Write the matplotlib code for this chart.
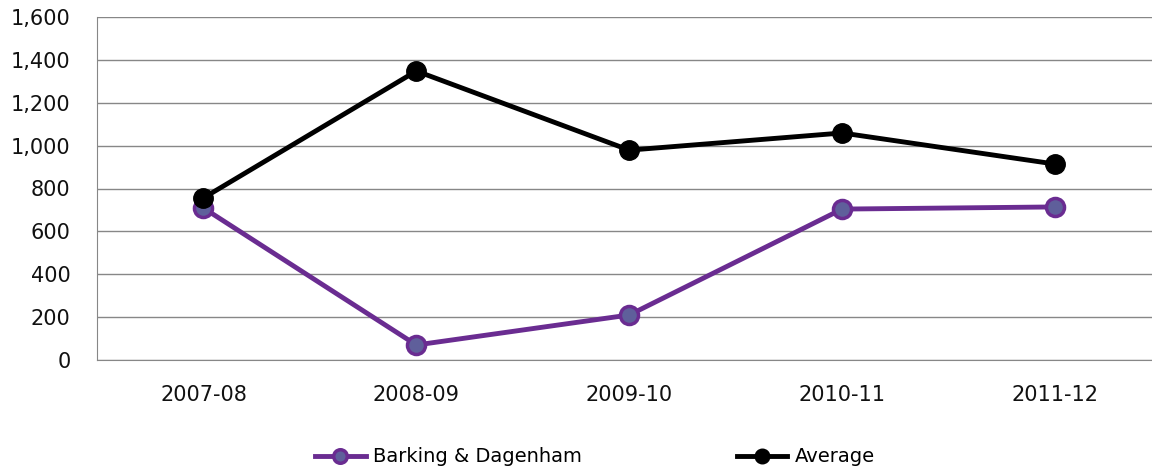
import numpy as np
import matplotlib.pyplot as plt

years = ['2007-08', '2008-09', '2009-10', '2010-11', '2011-12']
barking = [709, 70, 210, 704, 714]
average = [756, 1348, 979, 1059, 914]

fig = plt.figure(figsize=(11.52, 4.71), dpi=100)
# plot area from picture: x 97..1161 px, y 17..360 px
ax = fig.add_axes([97 / 1152, 1 - 360 / 471, (1161.5 - 97) / 1152, (360 - 17) / 471])

x = np.arange(len(years))
ax.plot(x, barking, color='#6a2c91', lw=3.5, marker='o', ms=13,
        mfc='#5f5f9b', mec='#6a2c91', mew=2.5, label='Barking & Dagenham', zorder=3)
ax.plot(x, average, color='black', lw=3.5, marker='o', ms=14,
        mfc='black', mec='black', label='Average', zorder=4)

ax.set_xlim(-0.5, 4.5)
ax.set_ylim(0, 1600)
ax.set_yticks(range(0, 1601, 200))
ax.set_yticklabels([f'{v:,}' for v in range(0, 1601, 200)])
ax.set_xticks(x)
ax.set_xticklabels(years)
ax.grid(axis='y', color='#878787', lw=1)
ax.set_axisbelow(True)
for s in ['top', 'right']:
    ax.spines[s].set_visible(False)
ax.spines['left'].set_color('#878787')
ax.spines['bottom'].set_color('#878787')
ax.tick_params(length=0, labelsize=15, colors='#111111')
ax.tick_params(axis='y', pad=19)
ax.tick_params(axis='x', pad=18)

leg = fig.legend(loc='center left', bbox_to_anchor=(315 / 1152, 1 - 457 / 471), ncol=2,
                 frameon=False, fontsize=14, columnspacing=7.95, handlelength=2.6,
                 handletextpad=0.4, borderpad=0, borderaxespad=0, markerscale=0.75)

fig.savefig('out.png', dpi=100)
